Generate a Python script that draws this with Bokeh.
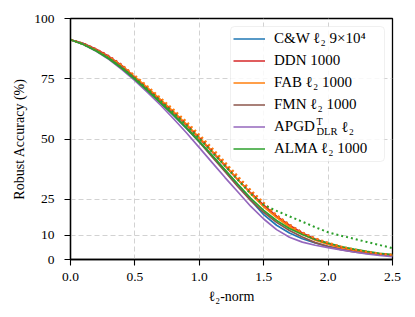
from bokeh.plotting import figure
from bokeh.models import Range1d, FixedTicker, Legend, LegendItem, Label, BoxAnnotation
from bokeh.embed import file_html
from bokeh.resources import INLINE

# ---- data ----
norm = [0.0, 0.1, 0.2, 0.3, 0.4, 0.5, 0.6, 0.7, 0.8, 0.9, 1.0, 1.1, 1.2,
        1.3, 1.4, 1.5, 1.6, 1.7, 1.8, 1.9, 2.0, 2.1, 2.2, 2.3, 2.4, 2.5]

cw = [91.2, 89.6, 87.0, 83.6, 79.6, 75.0, 70.0, 65.0, 59.8, 54.4, 48.8, 43.0, 37.0,
      31.0, 24.6, 18.6, 14.2, 11.0, 8.6, 6.9, 5.5, 4.4, 3.5, 2.7, 2.0, 1.5]
ddn = [91.2, 89.6, 87.2, 84.2, 80.4, 75.6, 70.8, 65.9, 60.9, 55.7, 50.2, 44.6, 38.8,
       33.0, 27.6, 22.6, 18.0, 14.2, 11.0, 8.5, 6.6, 5.1, 3.9, 3.0, 2.3, 1.8]
ddn_dot = [91.2, 89.6, 87.3, 84.4, 80.7, 76.0, 71.2, 66.4, 61.5, 56.4, 51.0, 45.5, 39.8,
           34.0, 28.4, 23.2, 18.4, 14.5, 11.2, 8.7, 6.8, 5.2, 4.0, 3.1, 2.4, 1.9]
fab = [91.2, 89.4, 86.9, 83.8, 80.2, 75.8, 71.2, 66.3, 61.4, 56.2, 50.6, 45.0, 39.2,
       33.2, 27.2, 21.8, 17.4, 13.6, 10.5, 8.0, 6.3, 4.8, 3.7, 2.8, 2.1, 1.7]
fab_dot = [91.2, 89.5, 87.0, 84.0, 80.5, 76.3, 71.8, 67.0, 62.2, 57.2, 51.8, 46.2, 40.4,
           34.5, 28.8, 23.6, 18.4, 14.4, 11.2, 8.8, 7.0, 5.4, 4.2, 3.2, 2.4, 1.9]
fmn = [91.2, 89.4, 86.8, 83.6, 79.8, 75.2, 70.2, 65.0, 60.0, 54.6, 48.8, 42.6, 36.4,
       30.2, 24.4, 19.6, 15.4, 12.0, 9.3, 7.0, 5.3, 4.1, 3.2, 2.5, 2.0, 1.6]
apgd = [91.2, 89.2, 86.4, 83.0, 78.8, 74.2, 69.2, 64.0, 58.4, 52.6, 46.4, 40.2, 34.0,
        28.0, 22.0, 16.8, 12.4, 9.2, 7.2, 5.9, 4.9, 4.0, 3.1, 2.3, 1.7, 1.2]
alma = [91.2, 89.2, 86.5, 83.2, 79.2, 74.7, 70.0, 65.0, 60.0, 54.6, 49.0, 43.2, 37.2,
        31.2, 25.4, 20.4, 16.2, 12.9, 10.4, 8.3, 6.8, 5.4, 4.3, 3.4, 2.6, 2.0]
alma_dot = [91.2, 89.3, 86.7, 83.5, 79.6, 75.2, 70.6, 65.8, 60.9, 55.7, 50.2, 44.6, 38.8,
            33.0, 27.2, 22.6, 20.2, 17.9, 15.7, 13.4, 11.3, 9.9, 8.6, 7.3, 6.0, 4.7]

x_ticks = [0.0, 0.5, 1.0, 1.5, 2.0, 2.5]
y_ticks = [0, 10, 25, 50, 75, 100]

labels = ["C&W ℓ₂ 9×10⁴", "DDN 1000", "FAB ℓ₂ 1000", "FMN ℓ₂ 1000", "APGD", "ALMA ℓ₂ 1000"]
colors = ["#1f77b4", "#d62728", "#ff7f0e", "#8c564b", "#9467bd", "#2ca02c"]
solid = [cw, ddn, fab, fmn, apgd, alma]
dotted = [(ddn_dot, "#d62728"), (fab_dot, "#ff7f0e"), (alma_dot, "#2ca02c")]

FONT = "Liberation Serif"

# frame placement (pixels within the figure)
FL, FR, FT, FB = 70, 392, 18, 259
W, H = 407, 309

p = figure(width=W, height=H, output_backend="svg", toolbar_location=None,
           x_range=Range1d(0, 2.5), y_range=Range1d(0, 100),
           min_border_left=FL, min_border_right=W - FR, min_border_top=FT,
           min_border_bottom=H - FB)
p.background_fill_color = "white"
p.border_fill_color = "white"
p.outline_line_color = "black"
p.outline_line_width = 1.3

for ax in (p.xaxis, p.yaxis):
    ax.axis_line_width = 1.3
    ax.major_tick_line_width = 1.1
    ax.major_tick_out = 6
    ax.major_tick_in = 0
    ax.minor_tick_out = 0
    ax.minor_tick_in = 0
    ax.major_label_text_font = FONT
    ax.major_label_text_font_size = "13.5px"
    ax.major_label_text_color = "black"
    ax.axis_label_text_font = FONT
    ax.axis_label_text_font_size = "14px"
    ax.axis_label_text_font_style = "normal"
    ax.axis_label_text_color = "black"

p.xaxis.ticker = FixedTicker(ticks=x_ticks)
p.yaxis.ticker = FixedTicker(ticks=y_ticks)
p.xaxis.major_label_overrides = {t: f"{t:.1f}" for t in x_ticks}
p.xaxis.axis_label = "ℓ₂-norm"
p.yaxis.axis_label = "Robust Accuracy (%)"
p.xaxis.major_label_standoff = 7
p.yaxis.major_label_standoff = 10
p.xaxis.axis_label_standoff = 5
p.yaxis.axis_label_standoff = 4

for g in (p.xgrid, p.ygrid):
    g.grid_line_color = "#d2d2d2"
    g.grid_line_width = 1.0
    g.grid_line_dash = "5 3"
p.xgrid.ticker = FixedTicker(ticks=x_ticks)
p.ygrid.ticker = FixedTicker(ticks=y_ticks)

items = []
for ys, c, lab in zip(solid, colors, labels):
    r = p.line(norm, ys, line_color=c, line_width=1.7)
    items.append(LegendItem(label=lab, renderers=[r]))
for ys, c in dotted:
    p.line(norm, ys, line_color=c, line_width=2.0, line_dash="2 3")


def px_to_x(px):
    return (px - FL) / (FR - FL) * 2.5


def py_to_y(py):
    return (FB - py) / (FB - FT) * 100


# legend frame (drawn as a box so the APGD sub/superscripts can sit above it)
PAD, LH, SP, MARGIN, GW, STAND, LW = 3, 19, 3, 8, 32, 9, 107
box_w = 2 * PAD + GW + STAND + LW
box_h = 2 * PAD + 6 * LH + 5 * SP
bx_r = FR - MARGIN
bx_l = bx_r - box_w
by_t = FT + MARGIN
by_b = by_t + box_h
box = BoxAnnotation(left=px_to_x(bx_l), right=px_to_x(bx_r),
                    top=py_to_y(by_t), bottom=py_to_y(by_b),
                    fill_color="white", fill_alpha=0.85,
                    line_color="#cccccc", line_width=1)
if "border_radius" in BoxAnnotation.properties():
    box.border_radius = 4
p.add_layout(box)

legend = Legend(items=items, location="top_right")
legend.label_text_font = FONT
legend.label_text_font_size = "15px"
legend.label_text_color = "black"
legend.label_height = LH
legend.glyph_height = LH
legend.glyph_width = GW
legend.label_width = LW
legend.spacing = SP
legend.padding = PAD
legend.margin = MARGIN
legend.label_standoff = STAND
legend.border_line_alpha = 0
legend.background_fill_alpha = 0
p.add_layout(legend)

# superscript / subscript pieces of the APGD legend entry
row5 = by_t + PAD + 4 * (LH + SP) + LH / 2
tx = bx_l + PAD + GW + STAND + 42
for txt, px, py, size in [("T", tx, row5 - 6, "10px"), ("DLR", tx, row5 + 4.5, "10.5px"),
                          ("ℓ₂", tx + 25, row5, "15px")]:
    p.add_layout(Label(x=px_to_x(px), y=py_to_y(py), text=txt, text_font=FONT,
                       text_font_size=size, text_color="black", text_baseline="middle",
                       level="overlay"))

open("out.html", "w").write(file_html(p, INLINE))
